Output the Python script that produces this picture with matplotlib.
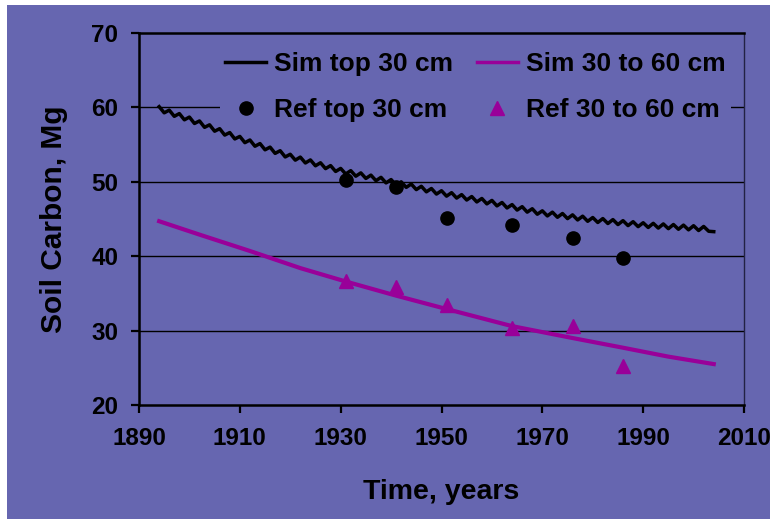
import matplotlib
matplotlib.use("Agg")
import matplotlib.pyplot as plt
from matplotlib.patches import Rectangle
from matplotlib.lines import Line2D

# ---- data ----
sim_years = list(range(1894, 2005))
sim_top = [60.10, 59.27, 59.63, 58.80, 59.17, 58.33, 58.70,
           57.84, 58.18, 57.32, 57.66, 56.80, 57.14, 56.28, 56.62, 55.76, 56.10,
           55.26, 55.62, 54.78, 55.14, 54.30, 54.66, 53.82, 54.18, 53.34, 53.70,
           52.91, 53.32, 52.53, 52.94, 52.15, 52.56, 51.77, 52.18, 51.39, 51.80,
           51.05, 51.50, 50.75, 51.20, 50.45, 50.90, 50.15, 50.60, 49.85, 50.30,
           49.55, 50.00, 49.25, 49.70, 48.95, 49.40, 48.65, 49.10, 48.35, 48.80,
           48.07, 48.54, 47.81, 48.28, 47.55, 48.02, 47.29, 47.76, 47.03, 47.50,
           46.76, 47.22, 46.48, 46.94, 46.20, 46.66, 45.92, 46.38, 45.64, 46.10,
           45.41, 45.92, 45.23, 45.74, 45.05, 45.56, 44.87, 45.38, 44.69, 45.20,
           44.53, 45.06, 44.39, 44.92, 44.25, 44.78, 44.11, 44.64, 43.97, 44.50,
           43.86, 44.42, 43.78, 44.34, 43.70, 44.26, 43.62, 44.18, 43.54, 44.10,
           43.45, 44.00, 43.35, 43.30]

sim_mid_years = [1894, 1902, 1912, 1922, 1931, 1941, 1951, 1964, 1976, 1986, 1995, 2004]
sim_mid = [44.7, 42.9, 40.7, 38.4, 36.6, 34.7, 32.9, 30.6, 29.0, 27.7, 26.5, 25.5]

ref_years = [1931, 1941, 1951, 1964, 1976, 1986]
ref_top = [50.3, 49.3, 45.1, 44.2, 42.5, 39.8]
ref_mid = [36.7, 35.8, 33.4, 30.4, 30.6, 25.2]

x_ticks = [1890, 1910, 1930, 1950, 1970, 1990, 2010]
y_ticks = [20, 30, 40, 50, 60, 70]

labels = ["Sim top 30 cm", "Ref top 30 cm", "Sim 30 to 60 cm", "Ref 30 to 60 cm"]

# ---- style ----
BG = "#6666B0"
PURPLE = "#990099"
plt.rcParams['font.family'] = ['Liberation Sans', 'DejaVu Sans']
plt.rcParams['font.weight'] = 'bold'

fig = plt.figure(figsize=(7.74, 5.19), dpi=100)
fig.patch.set_facecolor("white")
fig.patches.append(Rectangle((7/774, 0), (770-7)/774, (519-5)/519,
                             transform=fig.transFigure, facecolor=BG,
                             edgecolor="none", zorder=-10))

ax = fig.add_axes([139/774, 1-405/519, (744-139)/774, (405-33)/519])
ax.set_facecolor(BG)

ax.set_xlim(1890, 2010)
ax.set_ylim(20, 70)
ax.set_xticks(x_ticks)
ax.set_yticks(y_ticks)
ax.tick_params(axis='both', direction='out', length=6, width=1.6,
               labelsize=17.5, colors='black')
ax.tick_params(axis='y', pad=9)
ax.tick_params(axis='x', pad=10)
for lab in ax.get_xticklabels() + ax.get_yticklabels():
    lab.set_fontweight('bold')

for y in [30, 40, 50, 60]:
    ax.axhline(y, color='black', lw=1.0, zorder=1)

for s in ['left', 'bottom', 'top']:
    ax.spines[s].set_linewidth(1.8)
    ax.spines[s].set_color('black')
ax.spines['right'].set_linewidth(1.0)
ax.spines['right'].set_color('#222244')

l1, = ax.plot(sim_years, sim_top, color='black', lw=2.5, zorder=3)
l2, = ax.plot(sim_mid_years, sim_mid, color=PURPLE, lw=3.0, zorder=3)
p1, = ax.plot(ref_years, ref_top, 'o', color='black', ms=9.5, ls='none', zorder=4)
p2, = ax.plot(ref_years, ref_mid, '^', color=PURPLE, ms=10, ls='none', zorder=4)

ax.set_xlabel("Time, years", fontsize=20.5, fontweight='bold', labelpad=21)
ax.set_ylabel("Soil Carbon, Mg", fontsize=21.5, fontweight='bold', labelpad=17)

h_sim_top = Line2D([], [], color='black', lw=2.5)
h_sim_mid = Line2D([], [], color=PURPLE, lw=2.5)
leg = ax.legend([h_sim_top, p1, h_sim_mid, p2], labels, ncol=2,
                loc='upper left', bbox_to_anchor=((220-139)/605, 1-(47-33)/372),
                borderaxespad=0, borderpad=0.2, frameon=True,
                facecolor=BG, edgecolor='none', framealpha=1,
                handlelength=1.55, handletextpad=0.3, columnspacing=0.9,
                labelspacing=0.82, prop={'family': 'Liberation Sans',
                                         'weight': 'bold', 'size': 19})
leg.get_frame().set_boxstyle('square', pad=0)

fig.savefig("out.png", dpi=100, facecolor=fig.get_facecolor())
